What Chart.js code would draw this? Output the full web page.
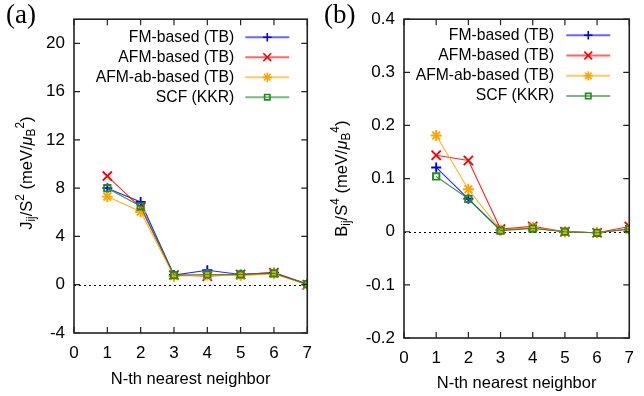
<!DOCTYPE html>
<html>
<head>
<meta charset="utf-8">
<script src="https://cdn.jsdelivr.net/npm/chart.js@4/dist/chart.umd.min.js"></script>
<style>
  html, body { margin: 0; padding: 0; background: #fff; }
  #wrap { display: flex; width: 644px; height: 396px; }
  canvas { display: block; }
</style>
</head>
<body>
<div id="wrap">
  <canvas id="ca" width="322" height="396"></canvas>
  <canvas id="cb" width="322" height="396"></canvas>
</div>
<script>
// ---------- data ----------
const neighbors = [1, 2, 3, 4, 5, 6, 7];
const seriesNames = ['FM-based (TB)', 'AFM-based (TB)', 'AFM-ab-based (TB)', 'SCF (KKR)'];
const seriesColors = ['#0000ff', '#ff0000', '#ffa500', '#208b20'];
const xTicks = [0, 1, 2, 3, 4, 5, 6, 7];

// Panel (a): J_ij / S^2
const jFM    = [8.0, 6.85, 0.8, 1.2, 0.85, 1.0, 0.05];
const jAFM   = [9.0, 6.4, 0.8, 0.7, 0.85, 1.0, 0.0];
const jAFMab = [7.3, 6.05, 0.7, 0.8, 0.75, 0.9, 0.0];
const jSCF   = [8.0, 6.5, 0.8, 0.85, 0.85, 0.95, 0.05];
const yTicksA = [-4, 0, 4, 8, 12, 16, 20];

// Panel (b): B_ij / S^4
const bFM    = [0.121, 0.062, 0.003, 0.007, 0.0, -0.002, 0.005];
const bAFM   = [0.144, 0.134, 0.005, 0.010, 0.0, -0.002, 0.010];
const bAFMab = [0.181, 0.080, 0.003, 0.008, 0.0, -0.002, 0.005];
const bSCF   = [0.104, 0.062, 0.002, 0.006, 0.0, -0.002, 0.005];
const yTicksB = [-0.2, -0.1, 0, 0.1, 0.2, 0.3, 0.4];

// ---------- styling helpers ----------
const FONT = "'Liberation Sans', Arial, Helvetica, sans-serif";
const SERIF = "'Liberation Serif', 'Times New Roman', serif";
const TXT = 16.5;
const LEG = 15.7;
const TICK = 17;
const markerStyles = [
  { pointStyle: 'cross',    radius: 5 },
  { pointStyle: 'crossRot', radius: 6.5 },
  { pointStyle: 'star',     radius: 5.5 },
  { pointStyle: 'rect',     radius: 4.5 }
];
function withAlpha(hex, a) {
  const n = parseInt(hex.slice(1), 16);
  return `rgba(${(n >> 16) & 255},${(n >> 8) & 255},${n & 255},${a})`;
}

function makeDatasets(arrs) {
  return arrs.map((vals, i) => ({
    label: seriesNames[i],
    data: neighbors.map((x, k) => ({ x: x, y: vals[k] })),
    borderColor: withAlpha(seriesColors[i], 0.85),
    borderWidth: 1.1,
    pointStyle: markerStyles[i].pointStyle,
    pointRadius: markerStyles[i].radius,
    pointBorderColor: seriesColors[i],
    pointBackgroundColor: 'rgba(0,0,0,0)',
    pointBorderWidth: 1.9,
    tension: 0,
    order: 4 - i
  }));
}

function drawMarker(ctx, style, r, x, y, color) {
  ctx.save();
  ctx.strokeStyle = color;
  ctx.lineWidth = 1.6;
  ctx.beginPath();
  if (style === 'cross' || style === 'star') {
    ctx.moveTo(x - r, y); ctx.lineTo(x + r, y);
    ctx.moveTo(x, y - r); ctx.lineTo(x, y + r);
  }
  if (style === 'crossRot' || style === 'star') {
    const d = r * Math.SQRT1_2;
    ctx.moveTo(x - d, y - d); ctx.lineTo(x + d, y + d);
    ctx.moveTo(x - d, y + d); ctx.lineTo(x + d, y - d);
  }
  if (style === 'rect') {
    const s = r * Math.SQRT1_2;
    ctx.rect(x - s, y - s, 2 * s, 2 * s);
  }
  ctx.stroke();
  ctx.restore();
}

// draw rich text runs: [{t, sub, sup, italic}]
function runsWidth(ctx, runs, base) {
  let w = 0;
  runs.forEach(r => {
    const size = (r.sub || r.sup) ? base * 0.72 : base;
    ctx.font = `${r.italic ? 'italic ' : ''}${size}px ${FONT}`;
    w += ctx.measureText(r.t).width;
  });
  return w;
}
function drawRuns(ctx, runs, base, x, y) {
  let cx = x;
  runs.forEach(r => {
    const size = (r.sub || r.sup) ? base * 0.72 : base;
    ctx.font = `${r.italic ? 'italic ' : ''}${size}px ${FONT}`;
    let dy = 0;
    if (r.sub) dy = base * 0.3;
    if (r.sup) dy = -base * 0.38;
    ctx.fillText(r.t, cx, y + dy);
    cx += ctx.measureText(r.t).width;
  });
}

function makeDecor(cfg) {
  return {
    id: 'decor' + cfg.tag,
    beforeDatasetsDraw(chart) {
      const { ctx, chartArea: a, scales } = chart;
      const y0 = scales.y.getPixelForValue(0);
      ctx.save();
      ctx.strokeStyle = '#000';
      ctx.lineWidth = 1;
      ctx.setLineDash([2, 3]);
      ctx.beginPath();
      ctx.moveTo(a.left, Math.round(y0) + 0.5);
      ctx.lineTo(a.right, Math.round(y0) + 0.5);
      ctx.stroke();
      ctx.restore();
    },
    afterDraw(chart) {
      const { ctx, chartArea: a, scales } = chart;
      ctx.save();
      // frame
      ctx.strokeStyle = '#222';
      ctx.lineWidth = 1.6;
      ctx.strokeRect(a.left, a.top, a.right - a.left, a.bottom - a.top);
      // inward ticks (mirrored)
      ctx.lineWidth = 1.2;
      ctx.beginPath();
      const tl = 6;
      cfg.xTicks.forEach(v => {
        const px = scales.x.getPixelForValue(v);
        ctx.moveTo(px, a.bottom); ctx.lineTo(px, a.bottom - tl);
        ctx.moveTo(px, a.top); ctx.lineTo(px, a.top + tl);
      });
      cfg.yTicks.forEach(v => {
        const py = scales.y.getPixelForValue(v);
        ctx.moveTo(a.left, py); ctx.lineTo(a.left + tl, py);
        ctx.moveTo(a.right, py); ctx.lineTo(a.right - tl, py);
      });
      ctx.stroke();

      // panel label
      ctx.fillStyle = '#000';
      ctx.font = `27px ${SERIF}`;
      ctx.textAlign = 'left';
      ctx.textBaseline = 'middle';
      ctx.fillText(cfg.panel, cfg.panelX, cfg.panelY);

      // x title
      ctx.font = `${TXT}px ${FONT}`;
      ctx.textAlign = 'center';
      ctx.fillText('N-th nearest neighbor', (a.left + a.right) / 2, cfg.xTitleY);

      // y title (rotated)
      ctx.save();
      ctx.translate(cfg.yTitleX, (a.top + a.bottom) / 2 + cfg.yTitleDy);
      ctx.rotate(-Math.PI / 2);
      ctx.textAlign = 'left';
      const w = runsWidth(ctx, cfg.yRuns, TXT);
      drawRuns(ctx, cfg.yRuns, TXT, -w / 2, 0);
      ctx.restore();

      // legend
      ctx.font = `${LEG}px ${FONT}`;
      ctx.textAlign = 'right';
      seriesNames.forEach((name, i) => {
        const ly = a.top + cfg.legTop + i * cfg.legStep;
        ctx.fillStyle = '#000';
        ctx.fillText(name, a.right - cfg.legText, ly);
        ctx.strokeStyle = withAlpha(seriesColors[i], 0.6);
        ctx.lineWidth = 2;
        ctx.beginPath();
        ctx.moveTo(a.right - cfg.legL1, ly);
        ctx.lineTo(a.right - cfg.legL2, ly);
        ctx.stroke();
        drawMarker(ctx, markerStyles[i].pointStyle, markerStyles[i].radius * 0.85,
          a.right - (cfg.legL1 + cfg.legL2) / 2, ly, seriesColors[i]);
      });
      ctx.restore();
    }
  };
}

function makeChart(id, arrs, yTicks, yMin, yMax, fmt, lay, cfg) {
  return new Chart(document.getElementById(id), {
    type: 'line',
    data: { datasets: makeDatasets(arrs) },
    options: {
      responsive: false,
      animation: false,
      events: [],
      layout: { padding: { left: 0, right: lay.right, top: lay.top, bottom: 0 } },
      plugins: { legend: { display: false }, tooltip: { enabled: false } },
      scales: {
        x: {
          type: 'linear', min: 0, max: 7,
          afterFit(s) { s.height = lay.xh; },
          afterBuildTicks(s) { s.ticks = xTicks.map(v => ({ value: v })); },
          grid: { display: false, drawTicks: false },
          border: { display: false },
          ticks: { padding: lay.xpad, color: '#000', font: { family: FONT, size: TICK }, maxRotation: 0, autoSkip: false }
        },
        y: {
          type: 'linear', min: yMin, max: yMax,
          afterFit(s) { s.width = lay.yw; },
          afterBuildTicks(s) { s.ticks = yTicks.map(v => ({ value: v })); },
          grid: { display: false, drawTicks: false },
          border: { display: false },
          ticks: { padding: 9, color: '#000', font: { family: FONT, size: TICK }, callback: fmt, autoSkip: false }
        }
      }
    },
    plugins: [makeDecor(cfg)]
  });
}

makeChart('ca', [jFM, jAFM, jAFMab, jSCF], yTicksA, -4, 22, v => String(v),
  { right: 4, top: 5, xh: 63, yw: 74, xpad: 10 },
  { tag: 'a', xTicks: xTicks, yTicks: yTicksA, panel: '(a)', panelX: 6, panelY: 16,
    xTitleY: 379, yTitleX: 27, yTitleDy: -3,
    yRuns: [{ t: 'J' }, { t: 'ij', sub: true }, { t: '/S' }, { t: '2', sup: true },
            { t: ' (meV/' }, { t: 'μ', italic: true }, { t: 'B', sub: true }, { t: '2', sup: true }, { t: ')' }],
    legTop: 18, legStep: 20, legText: 73, legL1: 62, legL2: 18 });

makeChart('cb', [bFM, bAFM, bAFMab, bSCF], yTicksB, -0.2, 0.4, v => (v === 0 ? '0' : v.toFixed(1)),
  { right: 5, top: 12, xh: 58, yw: 82, xpad: 10 },
  { tag: 'b', xTicks: xTicks, yTicks: yTicksB, panel: '(b)', panelX: 2, panelY: 16,
    xTitleY: 383, yTitleX: 20, yTitleDy: 0,
    yRuns: [{ t: 'B' }, { t: 'ij', sub: true }, { t: '/S' }, { t: '4', sup: true },
            { t: ' (meV/' }, { t: 'μ', italic: true }, { t: 'B', sub: true }, { t: '4', sup: true }, { t: ')' }],
    legTop: 16, legStep: 20.3, legText: 75, legL1: 63, legL2: 19 });
</script>
</body>
</html>
